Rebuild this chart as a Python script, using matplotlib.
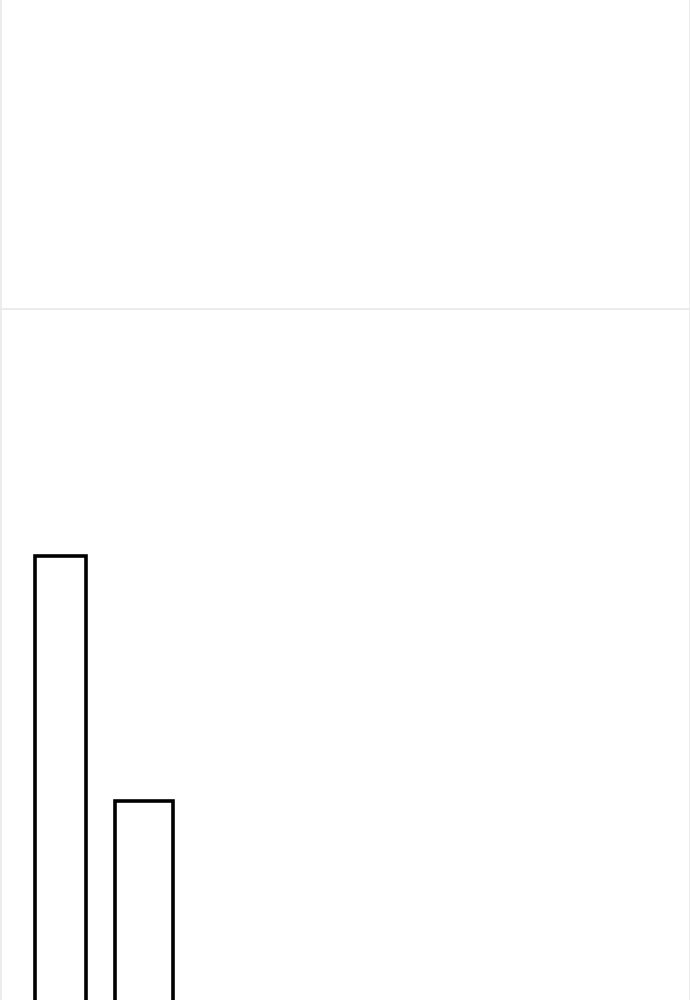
import matplotlib
matplotlib.use("Agg")
import matplotlib.pyplot as plt

# two visible bars (the rest of the chart is cut off below the frame)
categories = ["A", "B"]
values = [100, 65]
widths = [0.6, 0.69]
divider_value = 135.3

fig = plt.figure(figsize=(6.9, 10), dpi=100)
ax = fig.add_axes([0, 0, 1, 1])

x = list(range(len(categories)))
ax.bar(x, values, width=widths, facecolor="white", edgecolor="black", linewidth=2.6)
ax.axhline(divider_value, color="#ebebeb", lw=1.4)

ax.set_xlim(-0.7246, 7.539)
ax.set_ylim(36.6, 179.4)
ax.set_xticks([])
ax.set_yticks([])
for s in ["top", "bottom"]:
    ax.spines[s].set_visible(False)
for s in ["left", "right"]:
    ax.spines[s].set_color("#ebebeb")
    ax.spines[s].set_linewidth(2)

fig.savefig("out.png", dpi=100, facecolor="white")
